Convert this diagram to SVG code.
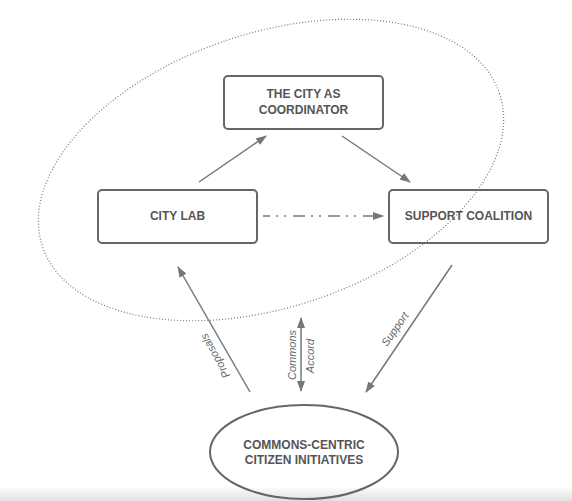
<svg xmlns="http://www.w3.org/2000/svg" width="572" height="501" viewBox="0 0 572 501">
  <defs>
    <linearGradient id="band" x1="0" y1="0" x2="0" y2="1">
      <stop offset="0" stop-color="#ffffff"/>
      <stop offset="1" stop-color="#e0e0e0"/>
    </linearGradient>
    <marker id="ah" markerUnits="userSpaceOnUse" markerWidth="11" markerHeight="8" refX="10" refY="4" orient="auto-start-reverse">
      <path d="M0,0 L11,4 L0,8 z" fill="#777"/>
    </marker>
    <style>
      .box { fill: none; stroke: #666; stroke-width: 2; }
      .lbl { font-family: "Liberation Sans", Arial, sans-serif; font-weight: bold; font-size: 12px; fill: #555; text-anchor: middle; }
      .edge { stroke: #777; stroke-width: 1.5; fill: none; }
      .elbl { font-family: "Liberation Sans", Arial, sans-serif; font-style: italic; font-size: 11px; fill: #666; text-anchor: middle; }
    </style>
  </defs>
  <rect x="0" y="0" width="572" height="501" fill="#fff"/>
  <rect x="0" y="486" width="572" height="15" fill="url(#band)"/>

  <!-- dotted grouping ellipse -->
  <ellipse cx="271" cy="170" rx="241" ry="137" transform="rotate(-18.5 271 170)" fill="none" stroke="#777" stroke-width="1.2" stroke-dasharray="1 2"/>

  <g id="connectors">
    <line class="edge" x1="199" y1="182" x2="266" y2="136" marker-end="url(#ah)"/>
    <line class="edge" x1="342" y1="136" x2="410" y2="182" marker-end="url(#ah)"/>
    <line class="edge" x1="263" y1="216" x2="383" y2="216" stroke-dasharray="12 6 2 6 2 7" stroke-dashoffset="5" marker-end="url(#ah)"/>
    <line class="edge" x1="250" y1="392" x2="178" y2="267" marker-end="url(#ah)"/>
    <line class="edge" x1="301" y1="318" x2="301" y2="391" marker-start="url(#ah)" marker-end="url(#ah)"/>
    <line class="edge" x1="452" y1="265" x2="366" y2="392" marker-end="url(#ah)"/>
    <text class="elbl" transform="translate(215 356) rotate(-119)" dy="0.35em">Proposals</text>
    <text class="elbl" transform="translate(292 355) rotate(-90)" dy="0.35em">Commons</text>
    <text class="elbl" transform="translate(310 356) rotate(-90)" dy="0.35em">Accord</text>
    <text class="elbl" transform="translate(395 329) rotate(-55)" dy="0.35em">Support</text>
  </g>

  <g id="coordinator">
    <rect class="box" x="224" y="76" width="159" height="53" rx="4"/>
    <text class="lbl" x="303.5" y="98">THE CITY AS</text>
    <text class="lbl" x="303.5" y="114">COORDINATOR</text>
  </g>
  <g id="citylab">
    <rect class="box" x="98" y="190" width="159" height="53" rx="4"/>
    <text class="lbl" x="177.5" y="220">CITY LAB</text>
  </g>
  <g id="support">
    <rect class="box" x="389" y="190" width="159" height="53" rx="4"/>
    <text class="lbl" x="468.5" y="220">SUPPORT COALITION</text>
  </g>
  <g id="initiatives">
    <ellipse cx="304" cy="452" rx="94" ry="47" fill="none" stroke="#666" stroke-width="2"/>
    <text class="lbl" x="304" y="449">COMMONS-CENTRIC</text>
    <text class="lbl" x="304" y="464">CITIZEN INITIATIVES</text>
  </g>
</svg>
